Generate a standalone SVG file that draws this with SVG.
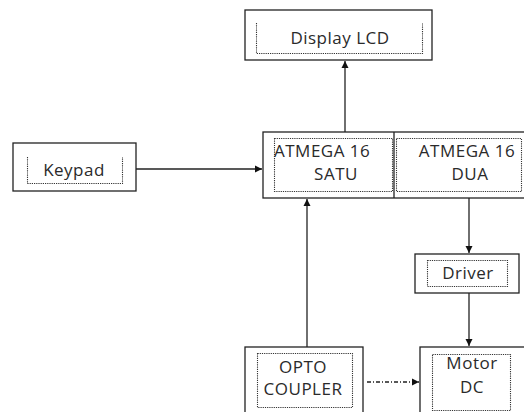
<svg xmlns="http://www.w3.org/2000/svg" width="524" height="412" viewBox="0 0 524 412">
<style>
.box{fill:#fff;stroke:#222;stroke-width:1.3}
.dot{fill:none;stroke:#333;stroke-width:1.1;stroke-dasharray:1.2 1}
.t{font-family:"Open Sans","Noto Sans",sans-serif;font-size:17px;letter-spacing:0.5px;fill:#2a2a2a}
.c{stroke:#222;stroke-width:1.3;fill:none}
</style>
<defs>
<marker id="ah" markerWidth="8" markerHeight="8" refX="7" refY="4" orient="auto" markerUnits="userSpaceOnUse">
<path d="M0,0.5 L7,4 L0,7.5 Z" fill="#111"/>
</marker>
</defs>
<rect width="524" height="412" fill="#fff"/>
<g id="display">
<rect class="box" x="245" y="10" width="187" height="50"/>
<path class="dot" d="M256.5,23 V53.5 H422.5 V23"/>
<text class="t" x="340" y="44" text-anchor="middle">Display LCD</text>
</g>
<g id="keypad">
<rect class="box" x="13" y="143" width="123" height="48"/>
<path class="dot" d="M27.5,157 V183.5 H122.5 V157"/>
<text class="t" x="74" y="176" text-anchor="middle">Keypad</text>
</g>
<g id="atmega">
<rect class="box" x="263" y="132" width="270" height="66"/>
<line class="c" x1="394" y1="132" x2="394" y2="198"/>
<rect class="dot" x="274.5" y="138.5" width="118" height="53"/>
<rect class="dot" x="396.5" y="138.5" width="125" height="53"/>
<text class="t" x="274" y="157">ATMEGA 16</text>
<text class="t" x="336" y="180" text-anchor="middle">SATU</text>
<text class="t" x="467" y="157" text-anchor="middle">ATMEGA 16</text>
<text class="t" x="470" y="180" text-anchor="middle">DUA</text>
</g>
<g id="driver">
<rect class="box" x="415" y="254" width="104" height="39"/>
<rect class="dot" x="427.5" y="260.5" width="80" height="26"/>
<text class="t" x="468" y="279" text-anchor="middle">Driver</text>
</g>
<g id="opto">
<rect class="box" x="245" y="347" width="118" height="70"/>
<rect class="dot" x="257.5" y="353.5" width="95" height="54"/>
<text class="t" x="303" y="373" text-anchor="middle">OPTO</text>
<text class="t" x="303" y="395" text-anchor="middle">COUPLER</text>
</g>
<g id="motor">
<rect class="box" x="420" y="347" width="110" height="70"/>
<rect class="dot" x="432.5" y="354.5" width="78" height="56"/>
<text class="t" x="472" y="369" text-anchor="middle">Motor</text>
<text class="t" x="472" y="393" text-anchor="middle">DC</text>
</g>
<g id="connectors">
<line class="c" x1="345" y1="132" x2="345" y2="61" marker-end="url(#ah)"/>
<line class="c" x1="136" y1="169" x2="262" y2="169" marker-end="url(#ah)"/>
<line class="c" x1="307" y1="347" x2="307" y2="199" marker-end="url(#ah)"/>
<line class="c" x1="469" y1="198" x2="469" y2="253" marker-end="url(#ah)"/>
<line class="c" x1="469" y1="293" x2="469" y2="346" marker-end="url(#ah)"/>
<line class="c" x1="367" y1="382" x2="419" y2="382" stroke-dasharray="4 2 1 2" marker-end="url(#ah)"/>
</g>
</svg>
